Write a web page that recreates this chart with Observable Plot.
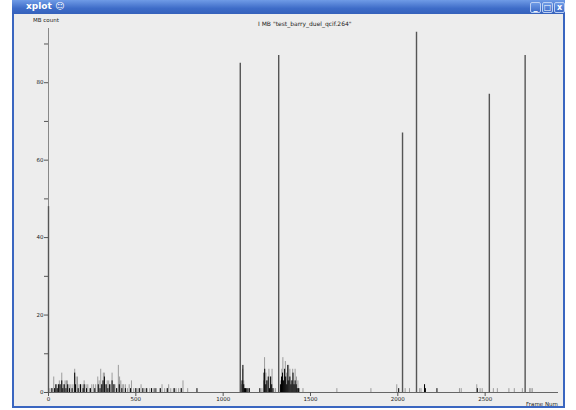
<!DOCTYPE html>
<html>
<head>
<meta charset="utf-8">
<script src="https://cdn.jsdelivr.net/npm/d3@7"></script>
<script src="https://cdn.jsdelivr.net/npm/@observablehq/plot@0.6"></script>
<style>
  html, body { margin: 0; padding: 0; background: #ffffff; width: 576px; height: 410px; overflow: hidden; }
  #win { position: absolute; left: 12px; top: 0; width: 553px; height: 408px; background: #3a66c0; }
  #bar { position: absolute; left: 0; top: 0; width: 553px; height: 14px;
         background: linear-gradient(#6f9be6, #3e6cc8 60%, #3561bb); }
  #bar .t { position: absolute; left: 14px; top: 1px; font: bold 9px "DejaVu Sans", sans-serif; color: #fff; }
  #bar .b { position: absolute; top: 2px; width: 9px; height: 9px; border: 1px solid #bcd0f4; border-radius: 2px;
            background: linear-gradient(#6f9be6, #3e6cc8); color: #fff; font: bold 8px "DejaVu Sans", sans-serif;
            line-height: 9px; text-align: center; }
  #content { position: absolute; left: 2px; top: 14px; width: 549px; height: 392px; background: #ededed; }
  .lbl { position: absolute; font: 5.5px "DejaVu Sans", sans-serif; color: #222; white-space: nowrap; }
  #content svg { position: absolute; left: 0; top: 0; }
</style>
</head>
<body>
<div id="win">
  <div id="bar"><span class="t">xplot ☺</span>
    <span class="b" style="left:518px">_</span>
    <span class="b" style="left:530px">□</span>
    <span class="b" style="left:542px">x</span>
  </div>
  <div id="content">
    <span class="lbl" style="left:19px; top:3px">MB count</span>
    <span class="lbl" style="left:244px; top:6px; font-size:6px">I MB "test_barry_duel_qcif.264"</span>
    <span class="lbl" style="left:512px; top:387px">Frame Num</span>
  </div>
</div>
<script>
// Tall I-MB lines (dark gray)
const tallFrames = [0, 1098, 1318, 2027, 2107, 2524, 2729];
const tallCounts = [48, 85, 87, 67, 93, 77, 87];

// Light gray series
const grayFrames = [8,17,30,45,55,62,70,76,85,95,103,108,118,128,140,150,158,166,175,183,192,204,215,225,235,248,258,270,282,290,299,306,314,320,328,336,345,355,364,372,381,392,400,407,414,422,430,440,452,462,475,488,500,512,530,548,565,580,600,618,640,650,665,680,688,700,715,730,745,760,770,797,
  1105,1112,1118,1125,1222,1232,1237,1245,1255,1262,1270,1280,1290,1300,1330,1336,1342,1350,1356,1362,1368,1375,1382,1390,1398,1405,1412,1420,1428,1436,1457,
  1651,1846,1994,2042,2067,2125,2133,2153,2353,2363,2452,2471,2483,2547,2570,2636,2667,2713,2755,2762,2770];
const grayCounts = [1,1,4,2,2,3,2,5,2,3,3,3,2,2,2,6,4,4,2,2,2,3,2,2,1,2,2,2,4,3,6,2,5,5,2,3,3,2,5,2,2,1,7,4,3,2,2,2,1,2,3,1,1,1,2,1,1,1,1,1,1,2,1,1,2,1,1,1,1,1,3,1,
  2,6,3,1,1,3,9,5,3,6,4,6,1,1,3,6,9,4,8,5,3,7,6,3,6,2,6,4,3,1,1,
  1,1,2,1,1,1,1,2,1,1,2,1,1,1,1,1,1,1,1,1,1];

// Black series
const blackFrames = [20,35,42,50,58,66,76,82,90,100,110,120,135,150,155,170,183,198,204,218,240,265,285,295,305,312,320,330,340,350,364,375,390,405,420,440,470,500,520,540,560,590,610,640,680,720,760,850,
  1108,1113,1118,1122,1128,1135,1142,1150,1210,1234,1238,1244,1250,1258,1265,1272,1278,1285,1328,1334,1340,1346,1352,1358,1364,1370,1376,1382,1388,1394,1400,1406,1412,1418,1424,1432,
  2005,2153,2158,2224,2455];
const blackCounts = [1,1,2,1,2,2,3,1,2,1,2,1,1,5,2,1,2,1,2,1,1,1,2,1,2,3,4,2,1,2,3,2,1,2,1,1,1,1,1,1,1,1,1,1,1,1,1,1,
  3,7,2,1,1,1,1,1,1,5,6,2,3,4,1,4,2,1,2,4,5,3,6,4,2,7,3,4,2,3,5,2,3,2,1,1,
  1,2,1,1,1];

const xTicks = [0, 500, 1000, 1500, 2000, 2500];
const yTicks = [0, 20, 40, 60, 80];
const yMinor = [10, 30, 50, 70, 90];

const toRows = (fs, cs) => fs.map((f, i) => ({frame: f, count: cs[i]}));
const gray = toRows(grayFrames, grayCounts);
const black = toRows(blackFrames, blackCounts);
const tall = toRows(tallFrames, tallCounts);

const chart = Plot.plot({
  width: 549,
  height: 392,
  marginLeft: 34,
  marginRight: 5,
  marginTop: 14,
  marginBottom: 14,
  style: {background: "transparent", fontFamily: "DejaVu Sans", fontSize: "5.5px", color: "#222"},
  x: {domain: [0, 2920]},
  y: {domain: [0, 94]},
  marks: [
    Plot.ruleX(gray, {x: "frame", y1: 0, y2: "count", stroke: "#9c9c9c", strokeWidth: 1}),
    Plot.ruleX(black, {x: "frame", y1: 0, y2: "count", stroke: "#000000", strokeWidth: 1}),
    Plot.ruleY([0], {stroke: "#666"}),
    Plot.ruleX([0], {y1: 0, y2: 94, stroke: "#888"}),
    Plot.ruleX(tall, {x: "frame", y1: 0, y2: "count", stroke: "#555", strokeWidth: 1.4}),
    Plot.axisX({ticks: xTicks, tickSize: 4, tickPadding: 1, tickFormat: d3.format("d"), label: null, stroke: "#555"}),
    Plot.axisY({ticks: yTicks, tickSize: 4, tickPadding: 1, tickFormat: d3.format("d"), label: null, stroke: "#555"}),
    Plot.axisY({ticks: yMinor, tickSize: 4, tickFormat: () => "", label: null, stroke: "#555"})
  ]
});
document.getElementById("content").appendChild(chart);
</script>
</body>
</html>
